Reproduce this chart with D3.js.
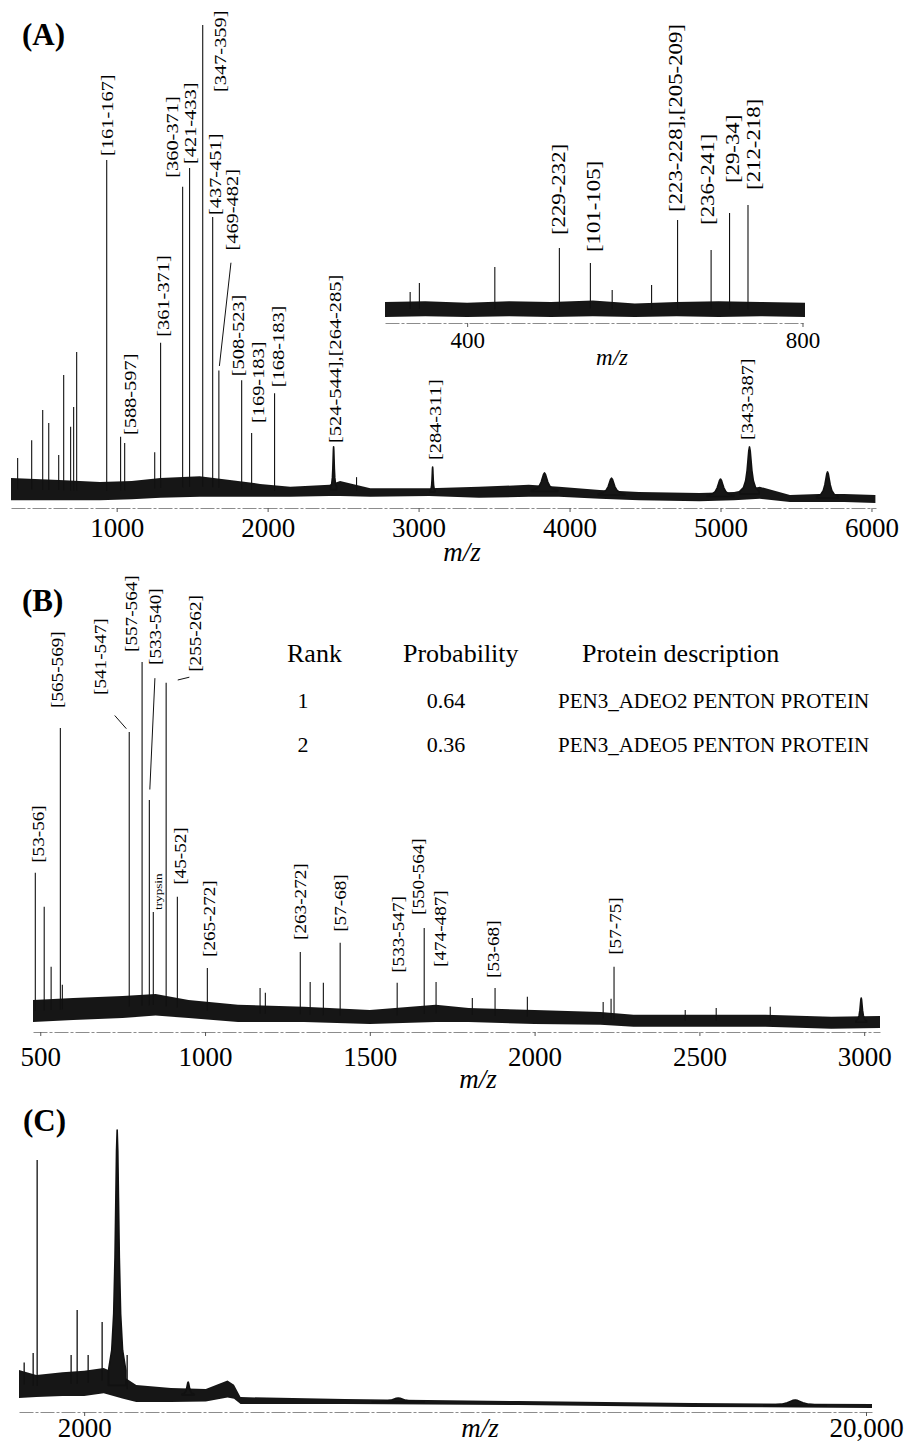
<!DOCTYPE html>
<html>
<head>
<meta charset="utf-8">
<script src="https://cdn.jsdelivr.net/npm/d3@7"></script>
<style>
  body { margin: 0; background: #fff; }
  text { font-family: "Liberation Serif", "Times New Roman", serif; fill: #000; }
</style>
</head>
<body>
<svg id="fig" width="908" height="1449"></svg>
<script>
// ---- Panel A: [m/z, relative intensity, half-width in m/z (0 = stick)]
const peaksA = [
  [344, 9.8, 0], [437, 13.5, 0], [510, 19.8, 0], [550, 17.1, 0], [616, 10.4, 0],
  [649, 27.1, 0], [695, 16.3, 0], [715, 20.4, 0], [735, 31.9, 0],
  [934, 71.9, 0], [1026, 14.2, 0], [1053, 12.9, 0], [1252, 11.0, 0], [1291, 33.8, 0],
  [1437, 66.3, 0], [1483, 70.2, 0], [1570, 100, 0], [1636, 60, 0], [1677, 28, 0],
  [1828, 26, 0], [1894, 15, 0], [2046, 23.3, 0], [2437, 12.1, 5], [2589, 5.8, 0],
  [3093, 7.9, 4], [3834, 6.7, 22], [4278, 5.6, 22], [5000, 5.4, 22], [5192, 12.1, 16], [5709, 6.9, 18]
];
// noise band [m/z, low, high]
const noiseA = [
  [300, 1.0, 5.6], [620, 1.0, 5.2], [890, 1.0, 4.8], [1100, 1.2, 5.0], [1290, 1.5, 5.6],
  [1550, 1.7, 6.0], [1750, 1.7, 5.2], [1950, 1.7, 4.4], [2150, 1.7, 3.8], [2410, 1.9, 4.2],
  [2480, 1.9, 5.0], [2680, 1.7, 3.5], [3070, 1.9, 3.5], [3400, 1.5, 3.8], [3730, 1.7, 4.2],
  [3930, 1.7, 3.8], [4200, 1.3, 3.1], [4460, 1.0, 2.7], [4860, 0.8, 2.5], [5090, 1.0, 2.7],
  [5260, 1.3, 3.8], [5460, 0.6, 2.1], [5650, 0.6, 2.3], [5820, 0.6, 2.3], [6026, 0.4, 2.1]
];
const labelsA = [
  ["[161-167]", 934], ["[588-597]", 1053], ["[361-371]", 1291], ["[360-371]", 1437],
  ["[421-433]", 1483], ["[347-359]", 1570], ["[437-451]", 1636], ["[469-482]", 1677],
  ["[508-523]", 1828], ["[169-183]", 1894], ["[168-183]", 2046],
  ["[524-544],[264-285]", 2437], ["[284-311]", 3093], ["[343-387]", 5192]
];
const ticksA = [1000, 2000, 3000, 4000, 5000, 6000];

// ---- Panel A inset
const peaksIn = [
  [332, 18.7, 0], [343, 24.7, 0], [433, 35.3, 0], [510, 48, 0], [547, 38, 0], [573, 20, 0],
  [620, 23.3, 0], [651, 66.7, 0], [691, 46.7, 0], [713, 71.3, 0], [735, 76.7, 0]
];
const noiseIn = [
  [302, 2, 12], [350, 2.5, 12.5], [400, 2, 11.5], [450, 2.5, 12.5], [500, 2, 12], [550, 2.5, 13],
  [600, 2, 11], [650, 2.5, 12], [700, 2, 12.5], [750, 2.5, 12], [803, 2, 11.5]
];
const labelsIn = [
  ["[229-232]", 510], ["[101-105]", 547], ["[223-228],[205-209]", 651],
  ["[236-241]", 691], ["[29-34]", 713], ["[212-218]", 735]
];
const ticksIn = [400, 800];

// ---- Panel B
const peaksB = [
  [485, 39.3, 0], [512, 30.8, 0], [533, 15.8, 0], [561, 75.5, 0], [567, 11.3, 0],
  [770, 74.5, 0], [809, 92, 0], [831, 57.5, 0], [843, 29.5, 0], [882, 86.8, 0], [916, 33.3, 0],
  [1007, 15.5, 0], [1167, 10.5, 0], [1183, 9.3, 0], [1289, 19.5, 0], [1319, 12, 0], [1359, 11.8, 0],
  [1410, 21.8, 0], [1583, 11.8, 0], [1665, 25.5, 0], [1701, 12, 0], [1811, 8, 0], [1880, 10.5, 0],
  [1978, 8.3, 0], [2208, 7, 0], [2232, 7.8, 0], [2241, 15.8, 0], [2457, 5, 0], [2551, 5.5, 0],
  [2715, 5.8, 0], [2991, 8, 4]
];
const noiseB = [
  [478, 2, 7.5], [600, 2.5, 8], [750, 3, 8.5], [850, 3.6, 9.0], [950, 3, 7.5], [1100, 2, 6.3],
  [1300, 2, 5.8], [1500, 1.5, 5], [1700, 2, 6.3], [1800, 2, 5.5], [2000, 1.5, 5], [2200, 1.3, 4.5],
  [2300, 0.8, 3.8], [2700, 0.8, 3.8], [2900, 0.3, 3.3], [3048, 0.5, 3.5]
];
const labelsB = [
  ["[53-56]", 485], ["[565-569]", 561], ["[541-547]", 770], ["[557-564]", 809],
  ["[533-540]", 831], ["trypsin", 843], ["[255-262]", 882], ["[45-52]", 916],
  ["[265-272]", 1007], ["[263-272]", 1289], ["[57-68]", 1410], ["[533-547]", 1583],
  ["[550-564]", 1665], ["[474-487]", 1701], ["[53-68]", 1880], ["[57-75]", 2241]
];
const ticksB = [500, 1000, 1500, 2000, 2500, 3000];

// search results table
const tableHeads = ["Rank", "Probability", "Protein description"];
const tableRanks = ["1", "2"];
const tableProbs = ["0.64", "0.36"];
const tableProteins = ["PEN3_ADEO2 PENTON PROTEIN", "PEN3_ADEO5 PENTON PROTEIN"];

// ---- Panel C
const peaksC = [
  [619, 17, 0], [826, 20.4, 0], [918, 89.3, 0], [1700, 19.6, 0], [1839, 35.7, 0], [2092, 19.6, 0],
  [2414, 31.4, 0], [2760, 100, 50], [2990, 19.6, 0], [4394, 10, 35], [9230, 4.3, 150], [18367, 3.6, 180]
];
const noiseC = [
  [500, 4.3, 14.3], [900, 4.6, 12.5], [1500, 5.0, 13.5], [2000, 5, 14], [2450, 6, 15],
  [2900, 4, 12], [3200, 2.9, 8.9], [4000, 2.9, 7.9], [4800, 3.0, 7.5], [5300, 4.5, 10.5],
  [5450, 4, 9], [5600, 2.1, 4.6], [8000, 2.1, 3.9], [12000, 1.8, 3.2], [16000, 1.1, 2.5], [20138, 0.7, 2.1]
];
const ticksC = [2000, 20000];

// label placement tweaks: [dx, dy, leaderFrom, leaderTo]
const labelNudge = {
  "[347-359]": [17, 71], "[469-482]": [13, -116, 0.07, 0.96], "[360-371]": [-11, -5],
  "[588-597]": [5, -4], "[508-523]": [-4, 0], "[169-183]": [6, -6], "[168-183]": [3, -2],
  "[524-544],[264-285]": [1, 0], "[284-311]": [2, -3], "[343-387]": [-2, -3],
  "[361-371]": [2, -2], "[437-451]": [2, 2],
  "[229-232]": [-1, -9], "[101-105]": [3, -7], "[223-228],[205-209]": [-2, -4],
  "[236-241]": [-4, -21], "[29-34]": [3, -26], "[212-218]": [5, -11],
  "[53-56]": [3, -6], "[565-569]": [-3, -16], "[541-547]": [-29, -33, 0.5, 0.9],
  "[557-564]": [-11, -6], "[533-540]": [6, -131, 0.07, 0.92], "[255-262]": [29, -7, 0.2, 0.6],
  "trypsin": [5, 2], "[45-52]": [3, -8], "[265-272]": [2, -7], "[263-272]": [0, -8],
  "[57-68]": [0, -7], "[533-547]": [1, -6], "[550-564]": [-6, -9], "[474-487]": [4, -11],
  "[53-68]": [-2, -6], "[57-75]": [1, -8]
};

const svg = d3.select('#fig');

function envelopeAt(noise, mz) {
  const i = d3.bisector(d => d[0]).left(noise, mz);
  const a = noise[Math.max(0, i - 1)];
  const b = noise[Math.min(noise.length - 1, i)];
  const t = b[0] === a[0] ? 0 : (mz - a[0]) / (b[0] - a[0]);
  return ((a[1] + a[2]) / 2) * (1 - t) + ((b[1] + b[2]) / 2) * t;
}

function drawSpectrum(g, x, y, noise, peaks, sw) {
  g.append('path')
    .datum(noise)
    .attr('d', d3.area().x(d => x(d[0])).y0(d => y(d[1])).y1(d => y(d[2])))
    .attr('fill', '#161616');

  const steps = [-4, -2.5, -1.6, -1, -0.6, -0.3, 0, 0.3, 0.6, 1, 1.6, 2.5, 4];
  peaks.forEach(([mz, h, hw]) => {
    const base = envelopeAt(noise, mz);
    if (hw === 0) {
      g.append('line')
        .attr('x1', x(mz)).attr('x2', x(mz))
        .attr('y1', y(base)).attr('y2', y(h))
        .attr('stroke', '#111')
        .attr('stroke-width', sw);
    } else {
      const pts = steps.map(k => [x(mz + k * hw), y(base + (h - base) / (1 + k * k))]);
      pts.unshift([x(mz - 4 * hw), y(base)]);
      pts.push([x(mz + 4 * hw), y(base)]);
      g.append('path')
        .attr('d', d3.line()(pts) + 'Z')
        .attr('fill', '#161616')
        .attr('stroke', '#111')
        .attr('stroke-width', 1.6)
        .attr('stroke-linejoin', 'round');
    }
  });
}

function drawLabels(g, x, y, peaks, labels, size) {
  labels.forEach(([txt, mz]) => {
    const p = peaks.find(d => d[0] === mz);
    const [dx, dy, f0, f1] = labelNudge[txt] || [0, 0];
    const px = x(mz), top = y(p[1]);
    const lx = px + dx, ly = top - 4 + dy;
    g.append('text')
      .attr('transform', `translate(${lx},${ly}) rotate(-90) scale(1.2,1)`)
      .attr('dy', '0.35em')
      .attr('font-size', txt === 'trypsin' ? 11 : size)
      .text(txt);
    if (f0 !== undefined) {
      const sx = lx, sy = ly + 4;
      g.append('line')
        .attr('x1', sx + (px - sx) * f0).attr('y1', sy + (top - sy) * f0)
        .attr('x2', sx + (px - sx) * f1).attr('y2', sy + (top - sy) * f1)
        .attr('stroke', '#111')
        .attr('stroke-width', 1);
    }
  });
}

function drawAxis(g, x, yPos, ticks, fmt, size, pad) {
  const ax = g.append('g')
    .attr('transform', `translate(0,${yPos})`)
    .call(d3.axisBottom(x).tickValues(ticks).tickFormat(fmt)
      .tickSize(4).tickSizeOuter(0).tickPadding(pad));
  ax.attr('font-family', null).attr('font-size', null);
  ax.select('.domain')
    .attr('stroke', '#8c8c8c')
    .attr('stroke-dasharray', '14,2,3,2');
  ax.selectAll('.tick line').attr('stroke', '#555');
  ax.selectAll('.tick text')
    .attr('font-size', size)
    .attr('fill', '#000');
}

function axisTitle(g, cx, by, size) {
  g.append('text')
    .attr('x', cx).attr('y', by)
    .attr('text-anchor', 'middle')
    .attr('font-style', 'italic')
    .attr('font-size', size)
    .text('m/z');
}

function panelTag(g, txt, px, by) {
  g.append('text')
    .attr('x', px).attr('y', by)
    .attr('font-weight', 'bold')
    .attr('font-size', 31)
    .text(txt);
}

// ---------------- Panel A
const gA = svg.append('g');
const xA = d3.scaleLinear().domain([300, 6030]).range([11, 876]);
const yA = d3.scaleLinear().domain([0, 100]).range([505, 25]);
drawAxis(gA, xA, 508, ticksA, d3.format('d'), 27, 6);
drawSpectrum(gA, xA, yA, noiseA, peaksA, 1.1);
drawLabels(gA, xA, yA, peaksA, labelsA, 17);
axisTitle(gA, 462, 561, 27);
panelTag(gA, '(A)', 22, 45);

// inset
const gIn = svg.append('g');
const xIn = d3.scaleLinear().domain([302, 803]).range([385, 805]);
const yIn = d3.scaleLinear().domain([0, 100]).range([320, 170]);
drawAxis(gIn, xIn, 323, ticksIn, d3.format('d'), 23, 5);
drawSpectrum(gIn, xIn, yIn, noiseIn, peaksIn, 1.1);
drawLabels(gIn, xIn, yIn, peaksIn, labelsIn, 19);
axisTitle(gIn, 612, 365, 23);

// ---------------- Panel B
const gB = svg.append('g');
const xB = d3.scaleLinear().domain([478, 3048]).range([33, 880]);
const yB = d3.scaleLinear().domain([0, 100]).range([1030, 630]);
drawAxis(gB, xB, 1032, ticksB, d3.format('d'), 27, 11);
drawSpectrum(gB, xB, yB, noiseB, peaksB, 1.1);
drawLabels(gB, xB, yB, peaksB, labelsB, 16);
axisTitle(gB, 478, 1088, 27);
panelTag(gB, '(B)', 22, 611);

const colX = [287, 403, 582];
tableHeads.forEach((h, i) => {
  gB.append('text').attr('x', colX[i]).attr('y', 662).attr('font-size', 26).text(h);
});
tableRanks.forEach((r, i) => {
  const by = 708 + i * 44;
  gB.append('text').attr('x', 303).attr('y', by).attr('text-anchor', 'middle').attr('font-size', 22).text(r);
  gB.append('text').attr('x', 446).attr('y', by).attr('text-anchor', 'middle').attr('font-size', 22).text(tableProbs[i]);
  gB.append('text').attr('x', 558).attr('y', by).attr('font-size', 21).text(tableProteins[i]);
});

// ---------------- Panel C
const gC = svg.append('g');
const xC = d3.scaleLinear().domain([500, 20138]).range([19, 872]);
const yC = d3.scaleLinear().domain([0, 100]).range([1410, 1130]);
drawAxis(gC, xC, 1412, ticksC, d => d === 20000 ? '20,000' : String(d), 27, 2);
drawSpectrum(gC, xC, yC, noiseC, peaksC, 1.3);
axisTitle(gC, 480, 1437, 27);
panelTag(gC, '(C)', 23, 1131);
</script>
</body>
</html>
